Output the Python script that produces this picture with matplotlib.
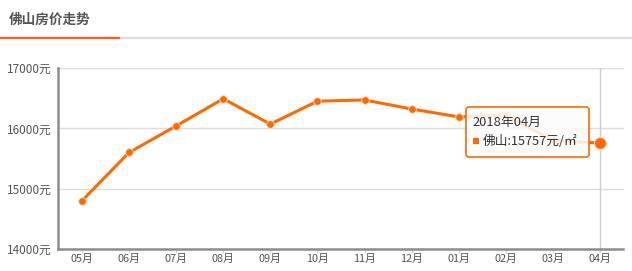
import matplotlib
matplotlib.use("Agg")
import matplotlib.pyplot as plt
from matplotlib.patches import FancyBboxPatch, Rectangle
from matplotlib.lines import Line2D

plt.rcParams['font.family'] = ['Noto Sans CJK SC', 'DejaVu Sans']

title = "佛山房价走势"
months = ["05月", "06月", "07月", "08月", "09月", "10月", "11月", "12月", "01月", "02月", "03月", "04月"]
prices = [14800, 15600, 16040, 16490, 16070, 16450, 16470, 16320, 16190, 16220, 15800, 15757]
yticks = [14000, 15000, 16000, 17000]
tooltip_title = "2018年04月"
tooltip_label = "佛山:15757元/㎡"

W, H = 632, 271
fig = plt.figure(figsize=(W / 100, H / 100), dpi=100)
fig.patch.set_facecolor("white")

orange = "#FF6A00"

# header
fig.text(9 / W, 1 - 20 / H, title, fontsize=9.8, fontweight="bold", color="#555555",
         ha="left", va="center")
fig.add_artist(Line2D([0, 1], [1 - 37.8 / H] * 2, color="#dddddd", lw=1.6, transform=fig.transFigure))
fig.add_artist(Line2D([0, 119 / W], [1 - 37.8 / H] * 2, color="#FF5A1F", lw=1.6, transform=fig.transFigure))

left, right, top, bottom = 58.5, 623.5, 68, 249
ax = fig.add_axes([left / W, 1 - bottom / H, (right - left) / W, (bottom - top) / H])
x = list(range(len(months)))
ax.set_xlim(-0.5, len(months) - 0.5)
ax.set_ylim(14000, 17000)

for v in yticks[1:]:
    ax.axhline(v, color="#dddddd", lw=1, zorder=0)
# hover pointer line
ax.axvline(x[-1], color="#cccccc", lw=1, zorder=1)

ax.plot(x, prices, color=orange, lw=2.2, zorder=3, solid_capstyle="round")
ax.scatter(x[:-1], prices[:-1], s=30, color=orange, edgecolors="#ffd9bf", linewidths=0.6, zorder=4)
ax.scatter([x[-1]], [prices[-1]], s=75, color=orange, edgecolors="#ffd9bf", linewidths=0.8, zorder=5)

for s in ["top", "right"]:
    ax.spines[s].set_visible(False)
for s in ["left", "bottom"]:
    ax.spines[s].set_color("#8c8c8c")
    ax.spines[s].set_linewidth(1.8)

ax.set_xticks(x)
ax.set_xticklabels(months)
ax.set_yticks(yticks)
ax.set_yticklabels([f"{v}元" for v in yticks])
ax.tick_params(axis="x", length=3, width=1, color="#c8d4e0", labelsize=7.8, labelcolor="#555555", pad=0.5)
ax.tick_params(axis="y", length=0, labelsize=8.5, labelcolor="#555555", pad=5)

# tooltip (figure pixel coords)
tx0, ty0, tx1, ty1 = 466, 107, 589, 157
shadow = FancyBboxPatch((tx0 + 1.5, H - ty1 - 1.5), tx1 - tx0, ty1 - ty0,
                        boxstyle="round,pad=0,rounding_size=3", transform=None,
                        facecolor="#000000", alpha=0.06, edgecolor="none", zorder=9)
box = FancyBboxPatch((tx0, H - ty1), tx1 - tx0, ty1 - ty0,
                     boxstyle="round,pad=0,rounding_size=3", transform=None,
                     facecolor=(1, 1, 1, 0.85), edgecolor=orange, lw=1.2, zorder=10)
fig.add_artist(shadow)
fig.add_artist(box)
fig.text((tx0 + 6) / W, 1 - 122 / H, tooltip_title, fontsize=9.3, color="#333333",
         ha="left", va="center", zorder=11)
fig.add_artist(Rectangle((tx0 + 7, H - 144), 6, 6, transform=None,
                         facecolor=orange, edgecolor="none", zorder=11))
fig.text((tx0 + 17) / W, 1 - 141 / H, tooltip_label, fontsize=9.2, color="#333333",
         ha="left", va="center", zorder=11)

fig.savefig("out.png", dpi=100)
